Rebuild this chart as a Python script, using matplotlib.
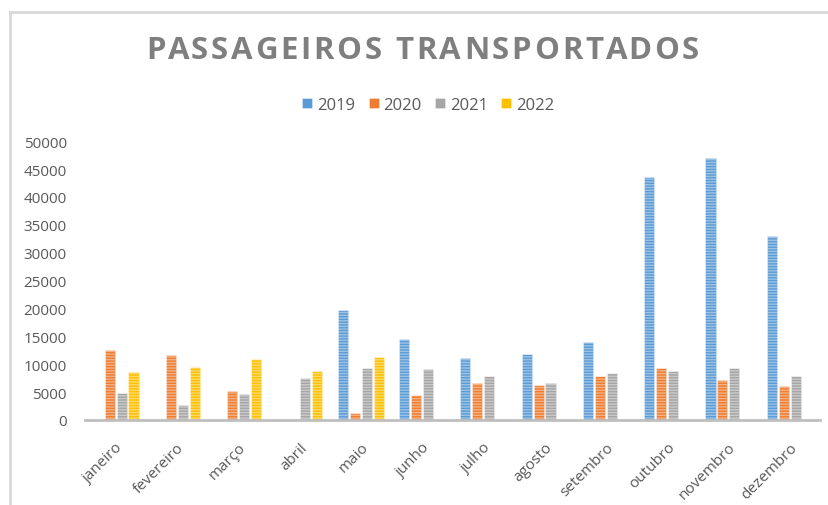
import numpy as np
import matplotlib.pyplot as plt
from matplotlib.font_manager import FontProperties

# Monthly values
MONTHS = ["janeiro", "fevereiro", "março", "abril", "maio", "junho",
          "julho", "agosto", "setembro", "outubro", "novembro", "dezembro"]
YEARS = ["2019", "2020", "2021", "2022"]

VALUES_2019 = [np.nan, np.nan, np.nan, np.nan, 19700, 14600,
               11100, 11800, 13900, 43500, 47000, 33000]
VALUES_2020 = [12600, 11600, 5200, np.nan, 1250, 4500,
               6600, 6300, 7800, 9400, 7100, 6100]
VALUES_2021 = [4800, 2700, 4700, 7600, 9300, 9100,
               7900, 6600, 8400, 8800, 9400, 7900]
VALUES_2022 = [8600, 9500, 11000, 8800, 11300, np.nan,
               np.nan, np.nan, np.nan, np.nan, np.nan, np.nan]

TITLE = "PASSAGEIROS TRANSPORTADOS"
COLORS = ["#5b9bd5", "#ed7d31", "#a5a5a5", "#ffc000"]
TEXT_COLOR = "#595959"

plt.rcParams["font.family"] = ["Open Sans", "DejaVu Sans"]
plt.rcParams["hatch.linewidth"] = 1.0

fig = plt.figure(figsize=(8.29, 5.06), dpi=100)
ax = fig.add_axes([0.1025, 0.168, 0.887, 0.551])

# Light frame around the chart area (like the Excel chart border)
fig.add_artist(plt.Line2D([0.012, 0.012], [0, 0.974], color="#d9d9d9", lw=2))
fig.add_artist(plt.Line2D([0.012, 1.0], [0.974, 0.974], color="#d9d9d9", lw=2))

x = np.arange(len(MONTHS))
slot = 0.195
width = 0.165
series = [VALUES_2019, VALUES_2020, VALUES_2021, VALUES_2022]

for i, (year, vals, color) in enumerate(zip(YEARS, series, COLORS)):
    pos = x + (i - 1.5) * slot
    ax.bar(pos, vals, width=width, color=color, edgecolor=(1, 1, 1, 0.6),
           linewidth=0.4, label=year)
    # lighter horizontal stripes to mimic the pattern fill
    ax.bar(pos, vals, width=width, facecolor="none",
           edgecolor=(1, 1, 1, 0.4), linewidth=0, hatch="------")

ax.set_xlim(-0.5, 11.5)
ax.set_ylim(0, 50000)
ax.set_yticks(range(0, 50001, 5000))
ax.set_xticks(x)
ax.set_xticklabels(MONTHS, rotation=45, ha="right", rotation_mode="anchor")

for side in ["top", "right", "left"]:
    ax.spines[side].set_visible(False)
ax.spines["bottom"].set_color("#bfbfbf")
ax.spines["bottom"].set_linewidth(2)
ax.tick_params(axis="both", length=0, colors=TEXT_COLOR, labelsize=11)
ax.tick_params(axis="x", pad=14)
ax.tick_params(axis="y", pad=13)

# Title with extra letter spacing, placed character by character
prop = FontProperties(family=["Open Sans", "DejaVu Sans"], weight="bold",
                      size=22.5)
renderer = fig.canvas.get_renderer()
spacing = 2.8  # pixels between letters
prefix_w = [renderer.get_text_width_height_descent(TITLE[:k], prop, False)[0]
            for k in range(len(TITLE) + 1)]
total_w = prefix_w[-1] + spacing * (len(TITLE) - 1)
x_start = 422.5 - total_w / 2
fig_w = fig.get_figwidth() * fig.dpi
for k, ch in enumerate(TITLE):
    if ch == " ":
        continue
    fig.text((x_start + prefix_w[k] + spacing * k) / fig_w, 0.9, ch,
             ha="left", va="center", fontproperties=prop, color="#7f7f7f")

leg = ax.legend(loc="center", bbox_to_anchor=(0.467, 1.13), ncol=4,
                frameon=False, fontsize=12, handlelength=0.6,
                handleheight=0.6, handletextpad=0.3, columnspacing=0.8)
for t in leg.get_texts():
    t.set_color(TEXT_COLOR)

fig.savefig("out.png", dpi=100)
